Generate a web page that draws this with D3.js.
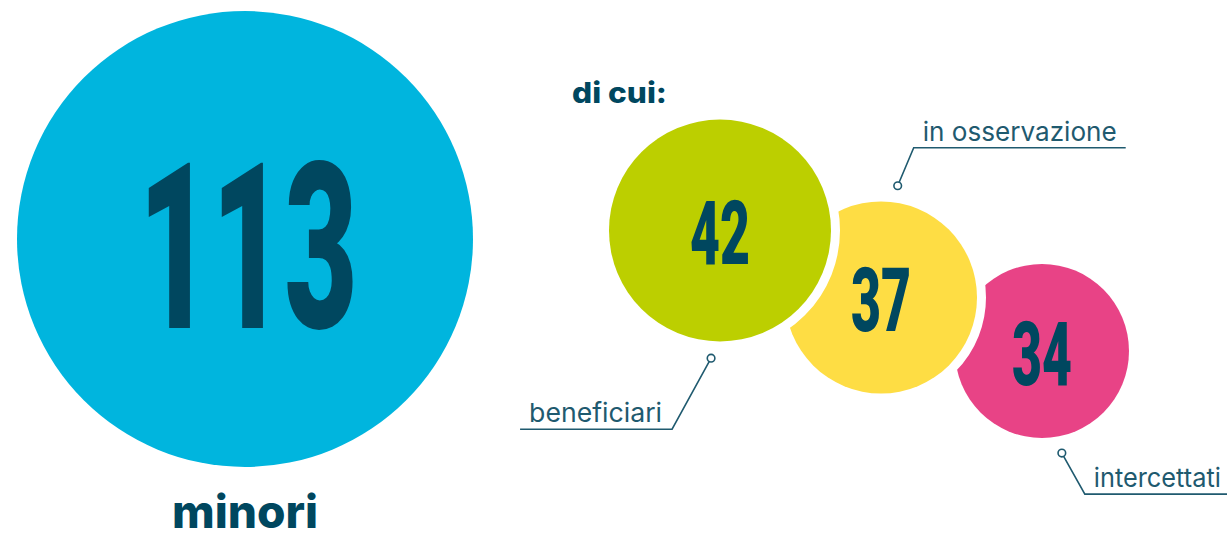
<!DOCTYPE html>
<html>
<head>
<meta charset="utf-8">
<script src="https://cdn.jsdelivr.net/npm/d3@7"></script>
<style>
  html, body { margin: 0; padding: 0; background: #ffffff; }
  svg { display: block; }
</style>
</head>
<body>
<svg id="chart" width="1227" height="533"></svg>
<script>
// ---- data ----
const totalLabel = "minori";
const totalValue = 113;
const subtitle = "di cui:";
const categories = ["beneficiari", "in osservazione", "intercettati"];
const values = [42, 37, 34];
const colors = ["#bccf00", "#fedd44", "#e84386"];
const totalColor = "#00b5de";

// ---- styling ----
const dark = "#00475f";
const labelColor = "#1f5a6f";
const svg = d3.select("#chart");

// radius scale (value -> px)
const r = d3.scaleLinear().domain([34, 42, 113]).range([87, 111, 228]);
// layout scales
const xBig = 245, yBig = 239;
const x = d3.scalePoint().domain(categories).range([720, 1042]);
const y = d3.scaleLinear().domain([34, 37, 42]).range([351, 297.5, 230.5]);
const numFont = "Roboto, 'DejaVu Sans', sans-serif";
const digitH = 0.711; // digit height / em

// ---- big circle ----
svg.append("circle")
  .attr("cx", xBig).attr("cy", yBig).attr("r", r(totalValue))
  .attr("fill", totalColor);

const bigSize = 165 / digitH;
svg.append("text")
  .attr("x", xBig + 3).attr("y", 328)
  .attr("text-anchor", "middle")
  .attr("font-family", numFont).attr("font-weight", 900)
  .attr("font-size", bigSize)
  .attr("textLength", 219).attr("lengthAdjust", "spacingAndGlyphs")
  .attr("fill", dark)
  .text(totalValue);

svg.append("text")
  .attr("x", xBig).attr("y", 528)
  .attr("text-anchor", "middle")
  .attr("font-family", "Inter, 'Noto Sans', sans-serif").attr("font-weight", 800)
  .attr("font-size", 46)
  .attr("textLength", 146).attr("lengthAdjust", "spacingAndGlyphs")
  .attr("fill", dark)
  .text(totalLabel);

svg.append("text")
  .attr("x", 572).attr("y", 103)
  .attr("font-family", "Inter, 'Noto Sans', sans-serif").attr("font-weight", 800)
  .attr("font-size", 29)
  .attr("textLength", 95).attr("lengthAdjust", "spacingAndGlyphs")
  .attr("fill", dark)
  .text(subtitle);

// ---- sub circles (draw back to front) ----
const data = categories.map((c, i) => ({ cat: c, value: values[i], color: colors[i], i }));
const order = data.slice().reverse();

svg.append("g").selectAll("circle").data(order).join("circle")
  .attr("cx", d => x(d.cat)).attr("cy", d => y(d.value)).attr("r", d => r(d.value))
  .attr("fill", d => d.color)
  .attr("stroke", "#ffffff").attr("stroke-width", 18)
  .style("paint-order", "stroke");

const smallSize = 63 / digitH;
svg.append("g").selectAll("text").data(data).join("text")
  .attr("x", d => x(d.cat)).attr("y", d => y(d.value) + 63 / 2 + 2)
  .attr("text-anchor", "middle")
  .attr("font-family", numFont).attr("font-weight", 900)
  .attr("font-size", smallSize)
  .attr("textLength", 60).attr("lengthAdjust", "spacingAndGlyphs")
  .attr("fill", dark)
  .text(d => d.value);

// ---- callouts ----
// angle (deg, 0 = right, clockwise), elbow offset, line extent, text side
const annAngle = [94, -81.5, 79];
const annElbow = [[-39, 71], [16, -38], [23, 41]];
const annLineLen = [152, 212, 160];
const annDir = [-1, 1, 1];
const annTextLen = [133, 194, 127];

data.forEach((d, i) => {
  const a = annAngle[i] * Math.PI / 180;
  const rr = r(d.value) + 17;
  const mx = x(d.cat) + rr * Math.cos(a);
  const my = y(d.value) + rr * Math.sin(a);
  const ex = mx + annElbow[i][0];
  const ey = my + annElbow[i][1];
  const lx = ex + annDir[i] * annLineLen[i];
  const line = d3.line();
  svg.append("path")
    .attr("d", line([[mx, my], [ex, ey], [lx, ey]]))
    .attr("fill", "none").attr("stroke", labelColor).attr("stroke-width", 1.6);
  svg.append("circle")
    .attr("cx", mx).attr("cy", my).attr("r", 3.8)
    .attr("fill", "#ffffff").attr("stroke", labelColor).attr("stroke-width", 1.6);
  svg.append("text")
    .attr("x", annDir[i] < 0 ? ex - 10 : ex + 9)
    .attr("y", ey - 7)
    .attr("text-anchor", annDir[i] < 0 ? "end" : "start")
    .attr("font-family", "Inter, 'Noto Sans', sans-serif").attr("font-weight", 400)
    .attr("font-size", 26)
    .attr("textLength", annTextLen[i]).attr("lengthAdjust", "spacingAndGlyphs")
    .attr("fill", labelColor)
    .text(d.cat);
});
</script>
</body>
</html>
